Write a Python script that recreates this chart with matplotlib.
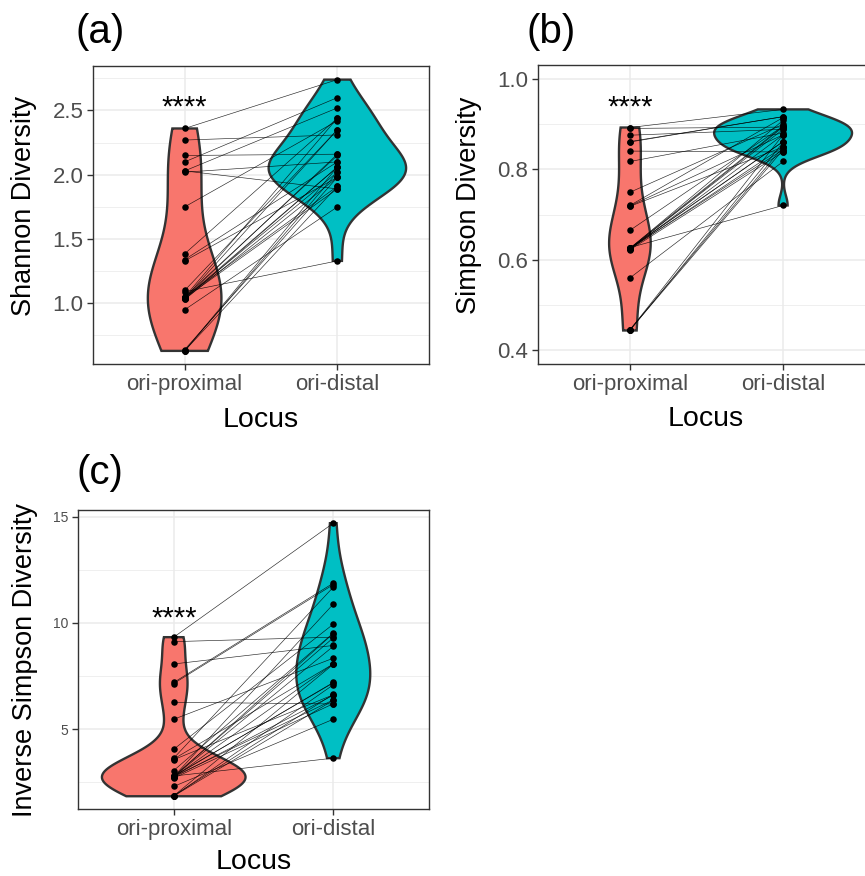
import numpy as np
import matplotlib
matplotlib.use("Agg")
import matplotlib.pyplot as plt

plt.rcParams["font.family"] = ["Liberation Sans", "DejaVu Sans"]

loci = ["ori-proximal", "ori-distal"]
fills = ["#F8766D", "#00BFC4"]

# paired samples, same order in every list
shannon_prox = [2.36, 2.27, 2.15, 2.10, 2.03, 2.03, 2.02, 1.75, 1.385, 1.34, 1.33,
                1.10, 1.09, 1.05, 1.04, 1.04, 1.05, 1.03, 1.04, 1.04, 1.03, 1.05, 1.04,
                0.95, 0.63, 0.63, 0.64, 0.63]
shannon_dist = [2.74, 2.31, 2.16, 2.60, 2.52, 1.89, 2.10, 2.42, 2.44, 2.10, 1.98,
                2.35, 1.33, 2.44, 2.35, 2.16, 2.15, 2.06, 2.06, 2.02, 1.98, 1.91, 1.89,
                1.75, 2.06, 2.02, 1.98, 1.91]

simpson_prox = [0.892, 0.890, 0.875, 0.861, 0.860, 0.840, 0.817, 0.749, 0.720, 0.719, 0.718,
                0.665, 0.627, 0.625, 0.626, 0.624, 0.625, 0.623, 0.625, 0.626, 0.624, 0.625, 0.622,
                0.560, 0.445, 0.444, 0.446, 0.445]
simpson_dist = [0.932, 0.893, 0.888, 0.916, 0.916, 0.838, 0.880, 0.899, 0.914, 0.876, 0.849,
                0.895, 0.720, 0.908, 0.895, 0.893, 0.888, 0.876, 0.861, 0.861, 0.849, 0.843, 0.838,
                0.817, 0.876, 0.859, 0.849, 0.843]

invsimpson_prox = [9.33, 9.12, 8.07, 7.20, 7.15, 6.27, 5.47, 4.06, 3.64, 3.60, 3.57,
                   3.06, 2.80, 2.78, 2.76, 2.79, 2.77, 2.75, 2.78, 2.80, 2.74, 2.78, 2.70,
                   2.31, 1.87, 1.85, 1.88, 1.86]
invsimpson_dist = [14.69, 9.33, 8.94, 11.87, 11.80, 6.19, 8.34, 9.94, 11.68, 8.07, 6.62,
                   9.52, 3.64, 10.88, 9.50, 9.30, 8.90, 8.07, 7.20, 7.18, 6.60, 6.38, 6.20,
                   5.47, 8.05, 7.09, 6.64, 6.36]

BW_ADJUST = 1.4


def bw_nrd0(x):
    sd = np.std(x, ddof=1)
    q75, q25 = np.percentile(x, [75, 25])
    lo = min(sd, (q75 - q25) / 1.34)
    if lo == 0:
        lo = sd
    return 0.9 * lo * len(x) ** -0.2


def density(values):
    x = np.asarray(values, float)
    bw = bw_nrd0(x) * BW_ADJUST
    grid = np.linspace(x.min(), x.max(), 512)
    z = (grid[:, None] - x[None, :]) / bw
    dens = np.exp(-0.5 * z ** 2).sum(axis=1) / (len(x) * bw * np.sqrt(2 * np.pi))
    return grid, dens


W, H = 865, 876
fig = plt.figure(figsize=(W / 100, H / 100), dpi=100)


def px_axes(left, top, right, bottom):
    return fig.add_axes([left / W, 1 - bottom / H, (right - left) / W, (bottom - top) / H])


def panel(ax, prox, dist, ylim, yticks, minor, ytick_fmt, ytick_size, star_y):
    curves = [density(prox), density(dist)]
    peak = max(d.max() for _, d in curves)
    for i, ((grid, dens), col) in enumerate(zip(curves, fills)):
        half = 0.45 * dens / peak
        xs = np.concatenate([i + 1 - half, (i + 1 + half)[::-1]])
        ys = np.concatenate([grid, grid[::-1]])
        ax.fill(xs, ys, facecolor=col, edgecolor="#333333", lw=1.7, zorder=2)
    for a, b in zip(prox, dist):
        ax.plot([1, 2], [a, b], color="black", lw=0.45, alpha=0.85, zorder=3)
    ax.scatter(np.ones(len(prox)), prox, s=22, color="black", zorder=4, linewidths=0)
    ax.scatter(np.full(len(dist), 2), dist, s=22, color="black", zorder=4, linewidths=0)
    ax.text(1, star_y, "****", ha="center", va="center", fontsize=21, zorder=5)

    ax.set_xlim(0.4, 2.6)
    ax.set_ylim(*ylim)
    ax.set_xticks([1, 2])
    ax.set_xticklabels(loci)
    ax.set_yticks(yticks)
    ax.set_yticklabels([ytick_fmt.format(t) for t in yticks])
    ax.set_yticks(minor, minor=True)
    ax.grid(True, which="major", color="#EBEBEB", lw=1.1, zorder=0)
    ax.grid(True, which="minor", axis="y", color="#EBEBEB", lw=0.55, zorder=0)
    ax.set_axisbelow(True)
    ax.tick_params(axis="both", which="major", length=4, width=1, color="#333333",
                   labelcolor="#4D4D4D", pad=3)
    ax.tick_params(axis="x", labelsize=16)
    ax.tick_params(axis="y", labelsize=ytick_size)
    ax.tick_params(which="minor", length=0)
    for sp in ax.spines.values():
        sp.set_color("#333333")
        sp.set_linewidth(1.0)


ax_a = px_axes(93, 66, 429, 364)
panel(ax_a, shannon_prox, shannon_dist, (0.528, 2.846), [1.0, 1.5, 2.0, 2.5],
      [0.75, 1.25, 1.75, 2.25, 2.75], "{:.1f}", 16, 2.52)

ax_b = px_axes(538, 65, 875, 364)
panel(ax_b, simpson_prox, simpson_dist, (0.37, 1.03), [0.4, 0.6, 0.8, 1.0],
      [0.5, 0.7, 0.9], "{:.1f}", 16, 0.935)

ax_c = px_axes(78, 510, 429, 809)
panel(ax_c, invsimpson_prox, invsimpson_dist, (1.25, 15.31), [5, 10, 15],
      [2.5, 7.5, 12.5], "{:d}", 10, 10.2)


def ftext(x, y, s, **kw):
    fig.text(x / W, 1 - y / H, s, ha="center", va="center", **kw)


ftext(100, 32, "(a)", fontsize=29)
ftext(551, 32, "(b)", fontsize=29)
ftext(100, 473, "(c)", fontsize=29)

ftext(24, 206, "Shannon Diversity", fontsize=19.5, rotation=90)
ftext(469, 205, "Simpson Diversity", fontsize=19.5, rotation=90)
ftext(25, 660, "Inverse Simpson Diversity", fontsize=19.5, rotation=90)

ftext(261, 420, "Locus", fontsize=20.5)
ftext(706, 419, "Locus", fontsize=20.5)
ftext(254, 862, "Locus", fontsize=20.5)

fig.savefig("out.png", dpi=100)
